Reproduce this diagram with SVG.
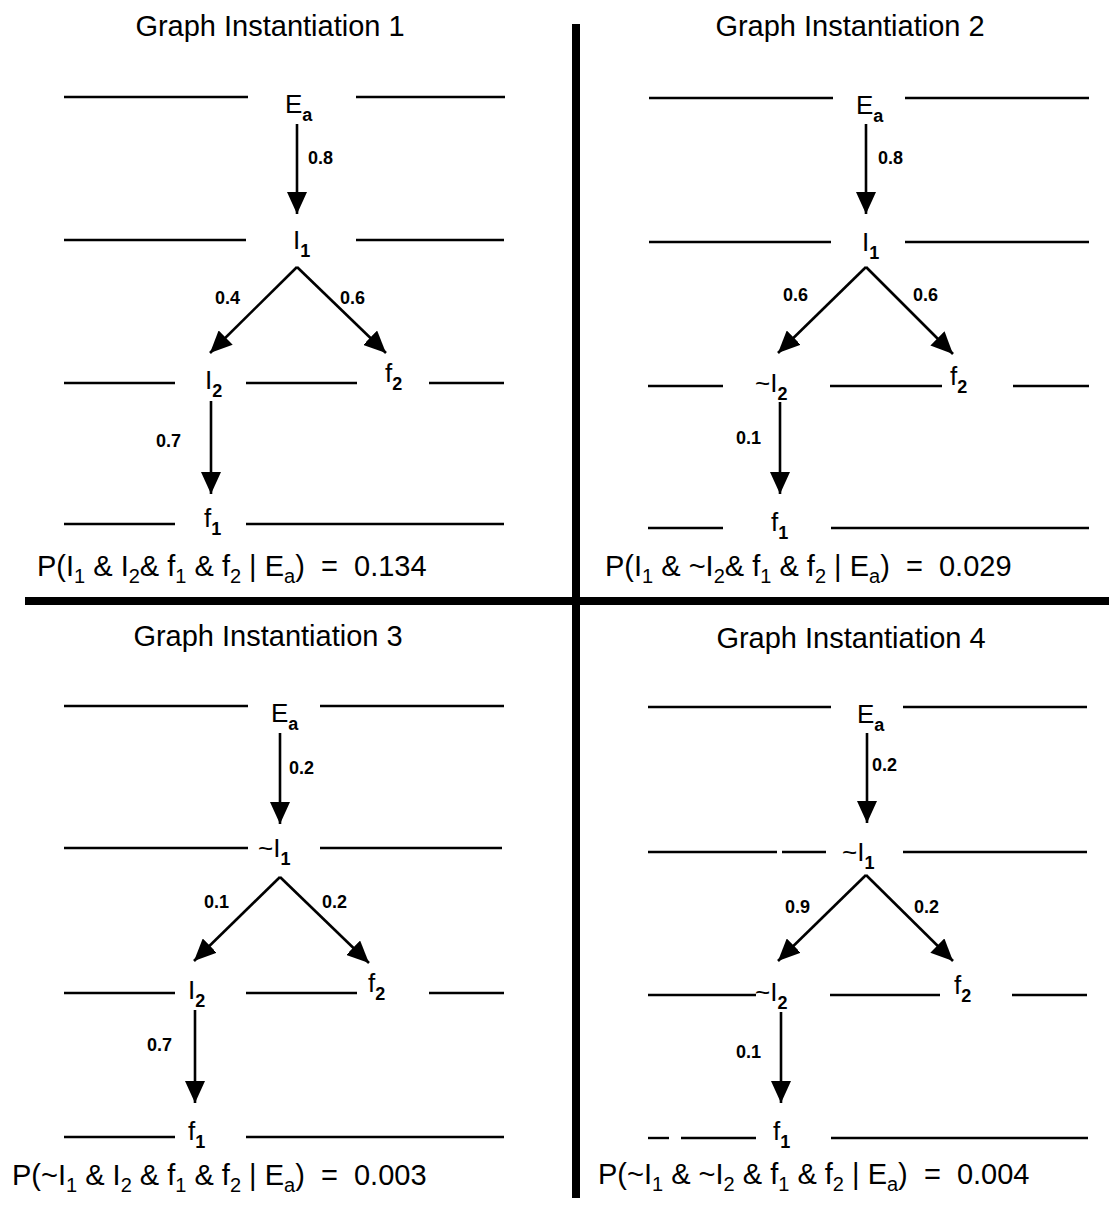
<svg xmlns="http://www.w3.org/2000/svg" width="1109" height="1205" viewBox="0 0 1109 1205">
<defs>
<style>
.ln{stroke:#000;stroke-width:2.4;fill:none}
.thick{stroke:#000;stroke-width:8;fill:none}
.edge{stroke:#000;stroke-width:2.6;fill:none;marker-end:url(#ah)}
text{font-family:"Liberation Sans",Arial,sans-serif;fill:#000}
.title{font-size:29px;text-anchor:middle}
.node{font-size:26px}
.sub{font-size:18px;font-weight:bold}
.w{font-size:18px;font-weight:bold}
.formula{font-size:29px}
.fs{font-size:20px}
</style>
<marker id="ah" viewBox="0 0 22 20" refX="22" refY="10" markerWidth="22" markerHeight="20" markerUnits="userSpaceOnUse" orient="auto">
<path d="M0,0 L22,10 L0,20 z" fill="#000"/>
</marker>
</defs>
<rect width="1109" height="1205" fill="#fff"/>

<g id="dividers">
<line class="thick" x1="576" y1="24" x2="576" y2="1198"/>
<line class="thick" x1="25" y1="601" x2="1109" y2="601"/>
</g>

<g id="titles">
<text class="title" x="270" y="36">Graph Instantiation 1</text>
<text class="title" x="850" y="36">Graph Instantiation 2</text>
<text class="title" x="268" y="646">Graph Instantiation 3</text>
<text class="title" x="851" y="648">Graph Instantiation 4</text>
</g>

<g id="level-lines">
<line class="ln" x1="64" y1="97" x2="248" y2="97"/><line class="ln" x1="356" y1="97" x2="505" y2="97"/>
<line class="ln" x1="64" y1="240" x2="246" y2="240"/><line class="ln" x1="356" y1="240" x2="504" y2="240"/>
<line class="ln" x1="64" y1="383" x2="175" y2="383"/><line class="ln" x1="246" y1="383" x2="357" y2="383"/><line class="ln" x1="429" y1="383" x2="504" y2="383"/>
<line class="ln" x1="64" y1="524" x2="175" y2="524"/><line class="ln" x1="246" y1="524" x2="504" y2="524"/>
<line class="ln" x1="649" y1="98" x2="833" y2="98"/><line class="ln" x1="905" y1="98" x2="1089" y2="98"/>
<line class="ln" x1="649" y1="242" x2="831" y2="242"/><line class="ln" x1="905" y1="242" x2="1089" y2="242"/>
<line class="ln" x1="648" y1="386" x2="723" y2="386"/><line class="ln" x1="830" y1="386" x2="942" y2="386"/><line class="ln" x1="1013" y1="386" x2="1089" y2="386"/>
<line class="ln" x1="648" y1="528" x2="723" y2="528"/><line class="ln" x1="831" y1="528" x2="1089" y2="528"/>
<line class="ln" x1="64" y1="706" x2="248" y2="706"/><line class="ln" x1="320" y1="706" x2="504" y2="706"/>
<line class="ln" x1="64" y1="848" x2="248" y2="848"/><line class="ln" x1="320" y1="848" x2="502" y2="848"/>
<line class="ln" x1="64" y1="993" x2="175" y2="993"/><line class="ln" x1="246" y1="993" x2="357" y2="993"/><line class="ln" x1="429" y1="993" x2="504" y2="993"/>
<line class="ln" x1="64" y1="1137" x2="175" y2="1137"/><line class="ln" x1="246" y1="1137" x2="504" y2="1137"/>
<line class="ln" x1="648" y1="707" x2="831" y2="707"/><line class="ln" x1="903" y1="707" x2="1087" y2="707"/>
<line class="ln" x1="648" y1="852" x2="777" y2="852"/><line class="ln" x1="782" y1="852" x2="826" y2="852"/><line class="ln" x1="903" y1="852" x2="1087" y2="852"/>
<line class="ln" x1="648" y1="995" x2="756" y2="995"/><line class="ln" x1="830" y1="995" x2="940" y2="995"/><line class="ln" x1="1012" y1="995" x2="1087" y2="995"/>
<line class="ln" x1="648" y1="1138" x2="669" y2="1138"/><line class="ln" x1="681" y1="1138" x2="756" y2="1138"/><line class="ln" x1="831" y1="1138" x2="1088" y2="1138"/>
</g>

<g id="q1-Ea"><text class="node" x="285" y="113">E<tspan class="sub" dy="8">a</tspan></text></g>
<g id="q1-I1"><text class="node" x="293" y="249">I<tspan class="sub" dy="8">1</tspan></text></g>
<g id="q1-I2"><text class="node" x="205" y="389">I<tspan class="sub" dy="8">2</tspan></text></g>
<g id="q1-f2"><text class="node" x="385" y="382">f<tspan class="sub" dy="8">2</tspan></text></g>
<g id="q1-f1"><text class="node" x="204" y="527">f<tspan class="sub" dy="8">1</tspan></text></g>

<g id="q2-Ea"><text class="node" x="856" y="114">E<tspan class="sub" dy="8">a</tspan></text></g>
<g id="q2-I1"><text class="node" x="862" y="251">I<tspan class="sub" dy="8">1</tspan></text></g>
<g id="q2-nI2"><text class="node" x="755" y="392">~I<tspan class="sub" dy="8">2</tspan></text></g>
<g id="q2-f2"><text class="node" x="950" y="385">f<tspan class="sub" dy="8">2</tspan></text></g>
<g id="q2-f1"><text class="node" x="771" y="531">f<tspan class="sub" dy="8">1</tspan></text></g>

<g id="q3-Ea"><text class="node" x="271" y="722">E<tspan class="sub" dy="8">a</tspan></text></g>
<g id="q3-nI1"><text class="node" x="258" y="857">~I<tspan class="sub" dy="8">1</tspan></text></g>
<g id="q3-I2"><text class="node" x="188" y="999">I<tspan class="sub" dy="8">2</tspan></text></g>
<g id="q3-f2"><text class="node" x="368" y="992">f<tspan class="sub" dy="8">2</tspan></text></g>
<g id="q3-f1"><text class="node" x="188" y="1140">f<tspan class="sub" dy="8">1</tspan></text></g>

<g id="q4-Ea"><text class="node" x="857" y="723">E<tspan class="sub" dy="8">a</tspan></text></g>
<g id="q4-nI1"><text class="node" x="842" y="861">~I<tspan class="sub" dy="8">1</tspan></text></g>
<g id="q4-nI2"><text class="node" x="755" y="1001">~I<tspan class="sub" dy="8">2</tspan></text></g>
<g id="q4-f2"><text class="node" x="954" y="994">f<tspan class="sub" dy="8">2</tspan></text></g>
<g id="q4-f1"><text class="node" x="773" y="1140">f<tspan class="sub" dy="8">1</tspan></text></g>

<g id="connectors">
<line class="edge" x1="297" y1="124" x2="297" y2="214"/>
<line class="edge" x1="297" y1="267" x2="210" y2="353"/>
<line class="edge" x1="297" y1="267" x2="386" y2="353"/>
<line class="edge" x1="211" y1="401" x2="211" y2="494"/>
<text class="w" x="308" y="164">0.8</text>
<text class="w" x="215" y="304">0.4</text>
<text class="w" x="340" y="304">0.6</text>
<text class="w" x="156" y="447">0.7</text>

<line class="edge" x1="866" y1="124" x2="866" y2="214"/>
<line class="edge" x1="866" y1="267" x2="778" y2="353"/>
<line class="edge" x1="866" y1="267" x2="953" y2="354"/>
<line class="edge" x1="780" y1="402" x2="780" y2="494"/>
<text class="w" x="878" y="164">0.8</text>
<text class="w" x="783" y="301">0.6</text>
<text class="w" x="913" y="301">0.6</text>
<text class="w" x="736" y="444">0.1</text>

<line class="edge" x1="280" y1="733" x2="280" y2="824"/>
<line class="edge" x1="280" y1="877" x2="194" y2="961"/>
<line class="edge" x1="280" y1="877" x2="369" y2="963"/>
<line class="edge" x1="195" y1="1010" x2="195" y2="1103"/>
<text class="w" x="289" y="774">0.2</text>
<text class="w" x="204" y="908">0.1</text>
<text class="w" x="322" y="908">0.2</text>
<text class="w" x="147" y="1051">0.7</text>

<line class="edge" x1="867" y1="733" x2="867" y2="823"/>
<line class="edge" x1="866" y1="875" x2="778" y2="961"/>
<line class="edge" x1="866" y1="875" x2="953" y2="961"/>
<line class="edge" x1="781" y1="1012" x2="781" y2="1103"/>
<text class="w" x="872" y="771">0.2</text>
<text class="w" x="785" y="913">0.9</text>
<text class="w" x="914" y="913">0.2</text>
<text class="w" x="736" y="1058">0.1</text>
</g>

<g id="formulas">
<text class="formula" x="37" y="576">P(I<tspan class="fs" dy="7">1</tspan><tspan dy="-7"> &amp; I</tspan><tspan class="fs" dy="7">2</tspan><tspan dy="-7">&amp; f</tspan><tspan class="fs" dy="7">1</tspan><tspan dy="-7"> &amp; f</tspan><tspan class="fs" dy="7">2</tspan><tspan dy="-7"> | E</tspan><tspan class="fs" dy="7">a</tspan><tspan dy="-7">)&#160; =&#160; 0.134</tspan></text>
<text class="formula" x="605" y="576">P(I<tspan class="fs" dy="7">1</tspan><tspan dy="-7"> &amp; ~I</tspan><tspan class="fs" dy="7">2</tspan><tspan dy="-7">&amp; f</tspan><tspan class="fs" dy="7">1</tspan><tspan dy="-7"> &amp; f</tspan><tspan class="fs" dy="7">2</tspan><tspan dy="-7"> | E</tspan><tspan class="fs" dy="7">a</tspan><tspan dy="-7">)&#160; =&#160; 0.029</tspan></text>
<text class="formula" x="12" y="1185">P(~I<tspan class="fs" dy="7">1</tspan><tspan dy="-7"> &amp; I</tspan><tspan class="fs" dy="7">2</tspan><tspan dy="-7"> &amp; f</tspan><tspan class="fs" dy="7">1</tspan><tspan dy="-7"> &amp; f</tspan><tspan class="fs" dy="7">2</tspan><tspan dy="-7"> | E</tspan><tspan class="fs" dy="7">a</tspan><tspan dy="-7">)&#160; =&#160; 0.003</tspan></text>
<text class="formula" x="598" y="1184">P(~I<tspan class="fs" dy="7">1</tspan><tspan dy="-7"> &amp; ~I</tspan><tspan class="fs" dy="7">2</tspan><tspan dy="-7"> &amp; f</tspan><tspan class="fs" dy="7">1</tspan><tspan dy="-7"> &amp; f</tspan><tspan class="fs" dy="7">2</tspan><tspan dy="-7"> | E</tspan><tspan class="fs" dy="7">a</tspan><tspan dy="-7">)&#160; =&#160; 0.004</tspan></text>
</g>
</svg>
